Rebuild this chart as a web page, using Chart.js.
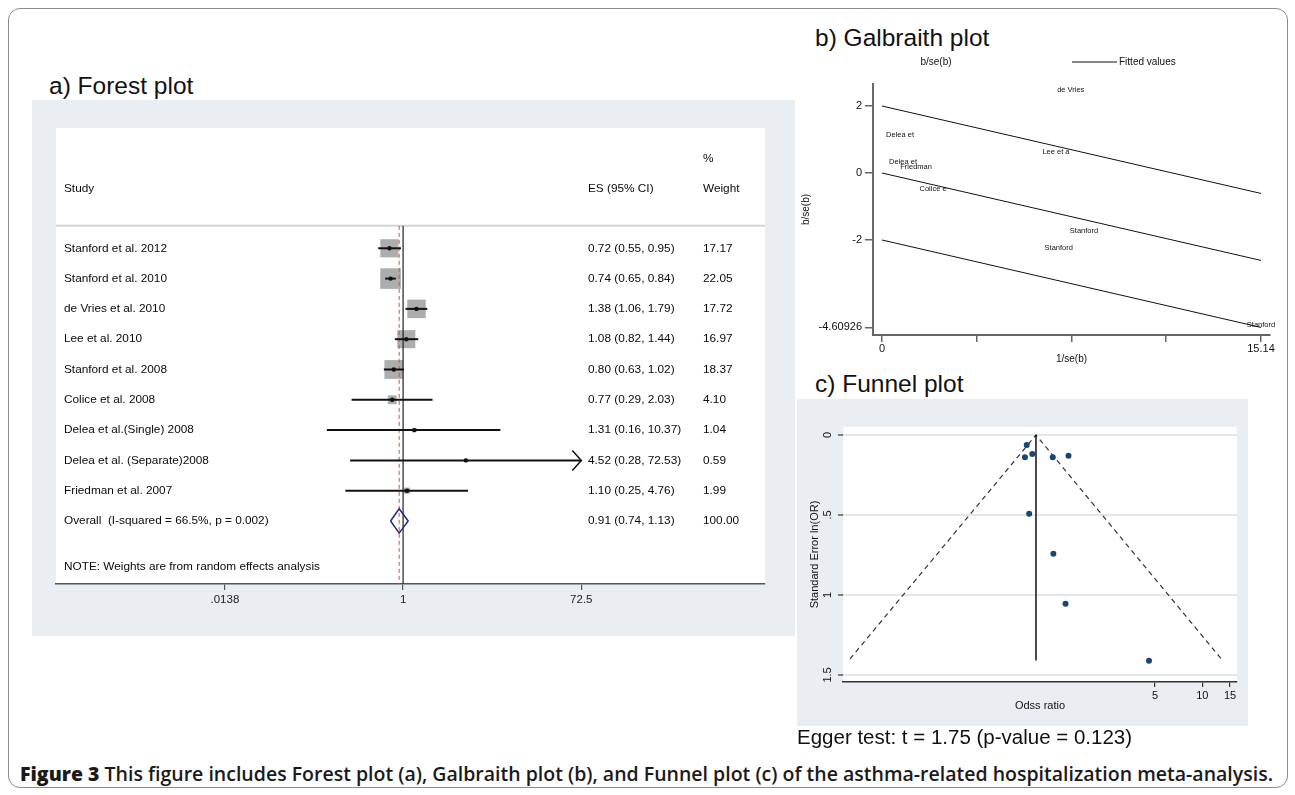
<!DOCTYPE html>
<html>
<head>
<meta charset="utf-8">
<script src="https://cdn.jsdelivr.net/npm/chart.js@4.4.0/dist/chart.umd.min.js"></script>
<style>
  body { margin: 0; width: 1295px; height: 795px; background: #fff; position: relative; overflow: hidden;
         font-family: "Liberation Sans", Arial, sans-serif; color: #111; }
  .frame { position: absolute; left: 8px; top: 8px; width: 1278px; height: 778px; border: 1px solid #8c8c8c; border-radius: 12px; }
  .ttl { position: absolute; font-size: 24.5px; line-height: 24.5px; white-space: nowrap; }
  .panel { position: absolute; background: #e8eef1; }
  canvas { position: absolute; }
  #egger { position: absolute; left: 797px; top: 727px; font-size: 20.5px; line-height: 20.5px; white-space: nowrap; }
  #caption { position: absolute; left: 20px; top: 764px; font-family: "Open Sans", "Noto Sans", sans-serif; font-size: 19.5px;
             line-height: 19.5px; font-weight: 600; white-space: nowrap; display: inline-block; transform-origin: 0 0; color: #1a1a1a; }
  #caption b { font-weight: 800; }
</style>
</head>
<body>
<div class="frame"></div>

<div class="ttl" style="left:49px;top:74px">a) Forest plot</div>
<div class="panel" style="left:32px;top:100px;width:763px;height:536px"></div>
<canvas id="forest" width="763" height="536" style="left:32px;top:100px"></canvas>

<div class="ttl" style="left:815px;top:26px">b) Galbraith plot</div>
<canvas id="galbraith" width="494" height="317" style="left:796px;top:50px"></canvas>

<div class="ttl" style="left:815px;top:372px">c) Funnel plot</div>
<div class="panel" style="left:797px;top:399px;width:451px;height:327px"></div>
<canvas id="funnel" width="451" height="327" style="left:797px;top:399px"></canvas>

<div id="egger">Egger test: t = 1.75 (p-value = 0.123)</div>
<div id="caption"><b>Figure 3</b> This figure includes Forest plot (a), Galbraith plot (b), and Funnel plot (c) of the asthma-related hospitalization meta-analysis.</div>

<script>
// ---- forest plot data ----
const studies = ['Stanford et al. 2012', 'Stanford et al. 2010', 'de Vries et al. 2010', 'Lee et al. 2010',
  'Stanford et al. 2008', 'Colice et al. 2008', 'Delea et al.(Single) 2008', 'Delea et al. (Separate)2008',
  'Friedman et al. 2007'];
const es = [0.72, 0.74, 1.38, 1.08, 0.80, 0.77, 1.31, 4.52, 1.10];
const ciLow = [0.55, 0.65, 1.06, 0.82, 0.63, 0.29, 0.16, 0.28, 0.25];
const ciHigh = [0.95, 0.84, 1.79, 1.44, 1.02, 2.03, 10.37, 72.53, 4.76];
const weights = [17.17, 22.05, 17.72, 16.97, 18.37, 4.10, 1.04, 0.59, 1.99];
const overallLabel = 'Overall  (I-squared = 66.5%, p = 0.002)';
const overallES = 0.91, overallLow = 0.74, overallHigh = 1.13, overallWeight = 100.00;
const forestTicks = [0.0138, 1, 72.5];
const forestTickLabels = ['.0138', '1', '72.5'];
const forestNote = 'NOTE: Weights are from random effects analysis';

// ---- galbraith plot data ----
const galLabels = ['de Vries', 'Delea et', 'Lee et a', 'Delea et', 'Friedman', 'Colice e', 'Stanford', 'Stanford', 'Stanford'];
const galX = [7.54, 0.72, 6.95, 0.84, 1.36, 2.04, 8.07, 7.06, 15.14];
const galY = [2.48, 1.14, 0.62, 0.32, 0.19, -0.48, -1.73, -2.25, -4.54];
const fitX = [0, 15.14];
const fitUpper = [2, -0.61];
const fitMiddle = [0, -2.61];
const fitLower = [-2, -4.61];
const galXTicks = [0, 3.785, 7.57, 11.355, 15.14];
const galXTickLabels = ['0', '', '', '', '15.14'];
const galYTicks = [2, 0, -2, -4.60926];
const galYTickLabels = ['2', '0', '-2', '-4.60926'];

// ---- funnel plot data ----
const funnelOR = [0.765, 0.745, 0.83, 1.12, 1.41, 0.793, 1.13, 1.35, 4.58];
const funnelSE = [0.063, 0.139, 0.119, 0.139, 0.129, 0.492, 0.742, 1.055, 1.411];
const pooledOR = 0.876;
const pooledLineSE = [0, 1.41];
const limitOR = [0.0576, 0.876, 13.2];
const limitSE = [1.40, 0, 1.40];
const funnelXTicks = [5, 10, 15];
const funnelYTicks = [0, 0.5, 1, 1.5];
const funnelYTickLabels = ['0', '.5', '1', '1.5'];

Chart.defaults.font.family = '"Liberation Sans", Arial, sans-serif';
Chart.defaults.color = '#111';
Chart.defaults.animation = false;
Chart.defaults.plugins.legend.display = false;
Chart.defaults.plugins.tooltip.enabled = false;

const fixTicks = vals => s => { s.ticks = vals.map(v => ({ value: v })); };

// ================= a) forest plot =================
const headerRule = 0.26;
const overallRow = studies.length + 1;
const noteRow = 11.52;
const clipAt = forestTicks[forestTicks.length - 1];

const forestSets = [];
// reference lines
forestSets.push({ data: [{ x: 1, y: headerRule }, { x: 1, y: 12.08 }], showLine: true, pointRadius: 0,
  borderColor: '#222', borderWidth: 1.2, order: 4 });
forestSets.push({ data: [{ x: overallES, y: headerRule }, { x: overallES, y: 12.08 }], showLine: true, pointRadius: 0,
  borderColor: '#d0504a', borderWidth: 1, borderDash: [4, 3], order: 3 });
// weight boxes
forestSets.push({ data: es.map((v, i) => ({ x: v, y: i + 1 })), pointStyle: 'rect',
  pointRadius: weights.map(w => 3.1 * Math.sqrt(w)), backgroundColor: '#adadad', borderWidth: 0, order: 5 });
// confidence intervals
studies.forEach((s, i) => {
  forestSets.push({ data: [{ x: ciLow[i], y: i + 1 }, { x: Math.min(ciHigh[i], clipAt), y: i + 1 }], showLine: true,
    pointRadius: 0, borderColor: '#111', borderWidth: 2, order: 2 });
});
// point estimates
forestSets.push({ data: es.map((v, i) => ({ x: v, y: i + 1 })), pointRadius: 2.2, backgroundColor: '#111', borderWidth: 0, order: 1 });
// overall diamond
forestSets.push({ data: [{ x: overallLow, y: overallRow }, { x: overallES, y: overallRow - 0.4 }, { x: overallHigh, y: overallRow },
  { x: overallES, y: overallRow + 0.4 }, { x: overallLow, y: overallRow }], showLine: true, pointRadius: 0,
  borderColor: '#1e2a78', borderWidth: 1.5, order: 1 });

const forestTable = {
  id: 'forestTable',
  beforeDraw(chart) {
    const { ctx, chartArea: a, scales: { y } } = chart;
    ctx.save();
    ctx.fillStyle = '#fff';
    ctx.fillRect(a.left, a.top, a.right - a.left, a.bottom - a.top);
    ctx.strokeStyle = '#d4d4d4';
    ctx.lineWidth = 2;
    const yr = y.getPixelForValue(headerRule);
    ctx.beginPath(); ctx.moveTo(a.left, yr); ctx.lineTo(a.right, yr); ctx.stroke();
    ctx.restore();
  },
  afterDatasetsDraw(chart) {
    const { ctx, scales: { x, y } } = chart;
    ctx.save();
    ctx.strokeStyle = '#111';
    ctx.lineWidth = 1.5;
    ciHigh.forEach((hi, i) => {
      if (hi <= clipAt) return;
      const px = x.getPixelForValue(clipAt), py = y.getPixelForValue(i + 1);
      ctx.beginPath(); ctx.moveTo(px - 9, py - 10); ctx.lineTo(px, py); ctx.lineTo(px - 9, py + 10); ctx.stroke();
    });
    ctx.restore();
  },
  afterDraw(chart) {
    const { ctx, chartArea: a, scales: { y } } = chart;
    const cStudy = a.left + 8, cES = a.left + 532, cW = a.left + 647;
    ctx.save();
    ctx.font = '11.8px "Liberation Sans", Arial, sans-serif';
    ctx.fillStyle = '#0a0a0a';
    ctx.textBaseline = 'middle';
    ctx.fillText('%', cW, y.getPixelForValue(-1.97));
    ctx.fillText('Study', cStudy, y.getPixelForValue(-0.96));
    ctx.fillText('ES (95% CI)', cES, y.getPixelForValue(-0.96));
    ctx.fillText('Weight', cW, y.getPixelForValue(-0.96));
    studies.forEach((s, i) => {
      const py = y.getPixelForValue(i + 1);
      ctx.fillText(s, cStudy, py);
      ctx.fillText(`${es[i].toFixed(2)} (${ciLow[i].toFixed(2)}, ${ciHigh[i].toFixed(2)})`, cES, py);
      ctx.fillText(weights[i].toFixed(2), cW, py);
    });
    const po = y.getPixelForValue(overallRow);
    ctx.fillText(overallLabel, cStudy, po);
    ctx.fillText(`${overallES.toFixed(2)} (${overallLow.toFixed(2)}, ${overallHigh.toFixed(2)})`, cES, po);
    ctx.fillText(overallWeight.toFixed(2), cW, po);
    ctx.fillText(forestNote, cStudy, y.getPixelForValue(noteRow));
    ctx.restore();
  }
};

new Chart(document.getElementById('forest'), {
  type: 'scatter',
  data: { datasets: forestSets },
  options: {
    responsive: false,
    layout: { padding: { left: 24, top: 28, right: 30, bottom: 0 } },
    scales: {
      x: {
        type: 'logarithmic', min: 0.000238, max: 6000,
        afterBuildTicks: fixTicks(forestTicks),
        afterFit: s => { s.height = 52; },
        ticks: { autoSkip: false, maxRotation: 0, padding: 3, font: { size: 11.5 }, color: '#222',
          callback: (v, i) => forestTickLabels[i] },
        grid: { drawOnChartArea: false, tickLength: 6, color: '#555', lineWidth: 1.2 },
        border: { color: '#555', width: 1.5 }
      },
      y: { display: false, min: -2.97, max: 12.08, reverse: true }
    }
  },
  plugins: [forestTable]
});

// ================= b) galbraith plot =================
const fitLine = ys => ({ data: fitX.map((v, i) => ({ x: v, y: ys[i] })), showLine: true, pointRadius: 0,
  borderColor: '#111', borderWidth: 1 });

const galText = {
  id: 'galText',
  afterDatasetsDraw(chart) {
    const { ctx, scales: { x, y } } = chart;
    ctx.save();
    ctx.font = '7.5px "Liberation Sans", Arial, sans-serif';
    ctx.fillStyle = '#111';
    ctx.textAlign = 'center';
    ctx.textBaseline = 'middle';
    galLabels.forEach((l, i) => ctx.fillText(l, x.getPixelForValue(galX[i]), y.getPixelForValue(galY[i])));
    // legend
    ctx.font = '10px "Liberation Sans", Arial, sans-serif';
    ctx.fillText('b/se(b)', 140, 12);
    ctx.textAlign = 'left';
    ctx.fillText('Fitted values', 323, 12);
    ctx.strokeStyle = '#111';
    ctx.lineWidth = 1;
    ctx.beginPath(); ctx.moveTo(276, 12); ctx.lineTo(321, 12); ctx.stroke();
    ctx.restore();
  }
};

new Chart(document.getElementById('galbraith'), {
  type: 'scatter',
  data: {
    datasets: [
      fitLine(fitUpper), fitLine(fitMiddle), fitLine(fitLower),
      { data: galX.map((v, i) => ({ x: v, y: galY[i] })), pointRadius: 0 }
    ]
  },
  options: {
    responsive: false,
    layout: { padding: { left: 0, top: 34, right: 20, bottom: 0 } },
    scales: {
      x: {
        type: 'linear', min: -0.36, max: 15.5,
        afterBuildTicks: fixTicks(galXTicks),
        afterFit: s => { s.height = 32; },
        ticks: { autoSkip: false, maxRotation: 0, padding: 0, font: { size: 11 }, color: '#111',
          callback: (v, i) => galXTickLabels[i] },
        grid: { drawOnChartArea: false, tickLength: 7, color: '#666', lineWidth: 1.5 },
        border: { color: '#666', width: 2 },
        title: { display: true, text: '1/se(b)', font: { size: 10 }, color: '#111', padding: { top: 0, bottom: 2 } }
      },
      y: {
        type: 'linear', min: -4.836, max: 2.657,
        afterBuildTicks: fixTicks(galYTicks),
        afterFit: s => { s.width = 77; },
        ticks: { autoSkip: false, padding: 3, font: { size: 11 }, color: '#111',
          callback: (v, i) => galYTickLabels[i] },
        grid: { drawOnChartArea: false, tickLength: 8, color: '#666', lineWidth: 1.5 },
        border: { color: '#666', width: 2 },
        title: { display: true, text: 'b/se(b)', font: { size: 10 }, color: '#111', padding: { top: 4, bottom: 0 } }
      }
    }
  },
  plugins: [galText]
});

// ================= c) funnel plot =================
const whiteArea = {
  id: 'whiteArea',
  beforeDraw(chart) {
    const { ctx, chartArea: a } = chart;
    ctx.save();
    ctx.fillStyle = '#fff';
    ctx.fillRect(a.left, a.top, a.right - a.left, a.bottom - a.top);
    ctx.restore();
  }
};

new Chart(document.getElementById('funnel'), {
  type: 'scatter',
  data: {
    datasets: [
      { data: funnelOR.map((v, i) => ({ x: v, y: funnelSE[i] })), pointRadius: 3, backgroundColor: '#1a476f', borderWidth: 0, order: 1 },
      { data: pooledLineSE.map(v => ({ x: pooledOR, y: v })), showLine: true, pointRadius: 0, borderColor: '#111', borderWidth: 1.5, order: 2 },
      { data: limitOR.map((v, i) => ({ x: v, y: limitSE[i] })), showLine: true, pointRadius: 0, borderColor: '#333',
        borderWidth: 1.2, borderDash: [5, 4], order: 3 }
    ]
  },
  options: {
    responsive: false,
    layout: { padding: { left: 0, top: 28, right: 11, bottom: 10 } },
    scales: {
      x: {
        type: 'logarithmic', min: 0.052, max: 16.6,
        afterBuildTicks: fixTicks(funnelXTicks),
        afterFit: s => { s.height = 34; },
        ticks: { autoSkip: false, maxRotation: 0, padding: 2, font: { size: 11 }, color: '#111',
          callback: v => String(v) },
        grid: { drawOnChartArea: false, tickLength: 5, color: '#333', lineWidth: 1.2 },
        border: { color: '#333', width: 1.5 },
        title: { display: true, text: 'Odss ratio', font: { size: 11 }, color: '#111', padding: { top: 0, bottom: 3 } }
      },
      y: {
        type: 'linear', min: -0.05, max: 1.544, reverse: true,
        afterBuildTicks: fixTicks(funnelYTicks),
        afterFit: s => { s.width = 46; },
        ticks: { autoSkip: false, minRotation: 90, maxRotation: 90, crossAlign: 'center', padding: 2,
          font: { size: 11 }, color: '#111', callback: (v, i) => funnelYTickLabels[i] },
        grid: { color: '#e1e8eb', lineWidth: 2, tickColor: '#333', tickWidth: 1.2, tickLength: 5 },
        border: { display: false },
        title: { display: true, text: 'Standard Error ln(OR)', font: { size: 11 }, color: '#111', padding: { top: 11, bottom: 0 } }
      }
    }
  },
  plugins: [whiteArea]
});

// caption fitted to the frame width
const cap = document.getElementById('caption');
cap.style.transform = `scaleX(${1253 / cap.getBoundingClientRect().width})`;
</script>
</body>
</html>
